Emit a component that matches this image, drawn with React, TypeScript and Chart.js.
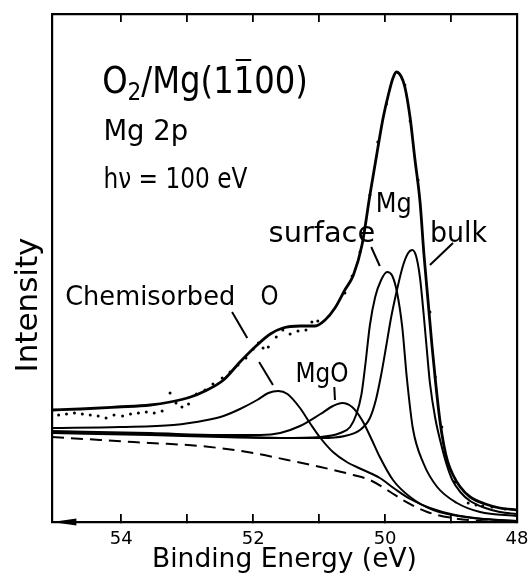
import React, { useEffect, useRef } from "react";
import { Chart, registerables } from "chart.js";

Chart.register(...registerables);

const FONT = '"DejaVu Sans", "Liberation Sans", sans-serif';

// Binding energy (eV) and intensity (arb. units)
const totalE = [55.05, 54.62, 54.06, 53.56, 53.26, 52.95, 52.73, 52.45, 52.2, 51.94, 51.74, 51.55, 51.29, 51.06, 50.91, 50.76, 50.61, 50.48, 50.35, 50.23, 50.12, 50.03, 49.94, 49.88, 49.83, 49.76, 49.7, 49.62, 49.55, 49.47, 49.41, 49.35, 49.29, 49.23, 49.17, 49.11, 49.05, 48.97, 48.86, 48.71, 48.48, 48.26, 48.0];
const totalI = [112, 113, 115, 117, 120, 125, 131, 142, 160, 177, 188, 194, 196, 196, 202, 214, 232, 247, 277, 327, 370, 404, 430, 444, 450, 446, 435, 404, 364, 320, 267, 222, 177, 137, 102, 77, 60, 47, 35, 25, 18, 14, 12];

const dataE = [54.95, 54.83, 54.71, 54.59, 54.47, 54.35, 54.23, 54.11, 53.98, 53.86, 53.74, 53.62, 53.5, 53.38, 53.26, 53.17, 53.08, 52.98, 52.86, 52.73, 52.61, 52.47, 52.35, 52.23, 52.11, 52.0, 51.92, 51.85, 51.77, 51.65, 51.55, 51.44, 51.32, 51.2, 51.11, 51.02, 50.61, 50.5, 50.38, 50.23, 50.11, 49.98, 49.7, 49.62, 49.5, 49.32, 49.24, 49.14, 48.94, 48.74, 48.62, 48.52, 48.38, 48.18];
const dataI = [107, 108, 109, 108, 107, 106, 104, 107, 106, 108, 109, 110, 109, 111, 129, 119, 115, 118, 128, 132, 138, 144, 150, 157, 164, 173, 179, 174, 175, 185, 192, 188, 191, 192, 200, 201, 229, 246, 270, 327, 380, 418, 437, 401, 342, 210, 145, 95, 40, 19, 17, 16, 15, 13];

const chemE = [55.05, 54.02, 53.21, 52.7, 52.45, 52.2, 51.94, 51.77, 51.62, 51.48, 51.29, 51.14, 50.98, 50.79, 50.58, 50.33, 50.08, 49.85, 49.62, 49.32, 48.94, 48.48, 48.0];
const chemI = [94, 95, 97, 102, 106, 113, 122, 129, 131, 128, 114, 99, 84, 70, 60, 52, 44, 33, 23, 14, 7, 3, 1];

const mgoE = [55.05, 53.56, 52.5, 51.89, 51.59, 51.29, 50.98, 50.79, 50.65, 50.5, 50.35, 50.2, 50.08, 49.88, 49.62, 49.27, 48.67, 48.0];
const mgoI = [91, 89, 87, 87, 89, 96, 108, 116, 119, 115, 102, 82, 65, 42, 25, 12, 4, 1];

const surfE = [55.05, 53.56, 52.5, 51.59, 50.98, 50.68, 50.53, 50.44, 50.36, 50.3, 50.23, 50.15, 50.06, 49.97, 49.89, 49.82, 49.74, 49.67, 49.58, 49.42, 49.21, 48.91, 48.56, 48.0];
const surfI = [90, 88, 86, 84, 85, 89, 95, 107, 127, 157, 197, 225, 242, 250, 246, 230, 195, 144, 94, 59, 35, 19, 10, 6];

const bulkE = [55.05, 53.56, 52.5, 51.59, 50.98, 50.61, 50.38, 50.23, 50.14, 50.06, 49.98, 49.91, 49.82, 49.73, 49.65, 49.59, 49.53, 49.47, 49.41, 49.36, 49.32, 49.24, 49.14, 49.06, 48.98, 48.86, 48.71, 48.48, 48.26, 48.0];
const bulkI = [89, 87, 85, 84, 84, 86, 92, 104, 122, 147, 177, 204, 232, 256, 269, 272, 266, 244, 204, 167, 139, 104, 75, 56, 42, 30, 21, 14, 10, 8];

const bgE = [55.05, 54.32, 53.56, 52.8, 52.0, 51.48, 50.98, 50.48, 50.23, 49.92, 49.73, 49.36, 48.98, 48.56, 48.0];
const bgI = [85, 82, 79, 76, 69, 62, 55, 47, 42, 30, 22, 10, 4, 1, 0];

const tickValues = [48, 49, 50, 51, 52, 53, 54];
const tickLabelValues = [54, 52, 50, 48];

const pts = (e: number[], v: number[]) => e.map((x, k) => ({ x, y: v[k] }));

// annotation leader lines (energy, intensity)
const leaderLines: [number, number, number, number][] = [
  [52.32, 210, 52.09, 184],
  [51.91, 160, 51.7, 137],
  [50.77, 135, 50.76, 122],
  [50.21, 275, 50.08, 256],
  [48.97, 279, 49.32, 257],
];

const annotationPlugin = {
  id: "annots",
  afterDraw(chart: any) {
    const { ctx, scales } = chart;
    const xs = scales.x;
    const ys = scales.y;
    const px = (e: number) => xs.getPixelForValue(e);
    const py = (v: number) => ys.getPixelForValue(v);
    ctx.save();
    ctx.fillStyle = "#000";
    ctx.strokeStyle = "#000";
    const text = (s: string, x: number, y: number, size: number, sx = 1, align: CanvasTextAlign = "left") => {
      ctx.save();
      ctx.font = `${size}px ${FONT}`;
      ctx.textBaseline = "alphabetic";
      ctx.textAlign = align;
      ctx.translate(x, y);
      ctx.scale(sx, 1);
      ctx.fillText(s, 0, 0);
      const w = ctx.measureText(s).width * sx;
      ctx.restore();
      return w;
    };

    // Title O2/Mg(1-100)
    let x = px(54.29);
    const y = py(429);
    const ts = 38, tsx = 0.85;
    x += text("O", x, y, ts, tsx);
    x += text("2", x, y + 7, 24, 0.9);
    x += text("/Mg(1", x, y, ts, tsx);
    const w1 = text("1", x, y, ts, tsx);
    ctx.lineWidth = 2;
    ctx.beginPath();
    ctx.moveTo(x + 2, y - 33);
    ctx.lineTo(x + w1 - 3, y - 33);
    ctx.stroke();
    x += w1;
    text("00)", x, y, ts, tsx);

    text("Mg 2p", px(54.27), py(382), 28, 0.98);
    text("h\u03bd = 100 eV", px(54.27), py(334), 28, 0.83);
    text("Mg", px(50.14), py(310), 27, 0.89);
    text("surface", px(50.15), py(280), 28, 1.03, "right");
    text("bulk", px(49.32), py(280), 28, 0.96);
    text("Chemisorbed", px(54.85), py(217), 27, 0.95);
    text("O", px(51.89), py(217), 27, 0.85);
    text("MgO", px(51.36), py(140), 27, 0.86);

    // leader lines
    ctx.lineWidth = 2;
    for (const [e1, i1, e2, i2] of leaderLines) {
      ctx.beginPath();
      ctx.moveTo(px(e1), py(i1));
      ctx.lineTo(px(e2), py(i2));
      ctx.stroke();
    }

    // direction arrow on the energy axis
    const tipX = px(55.05), baseX = px(54.68), ay = py(0);
    ctx.beginPath();
    ctx.moveTo(tipX, ay);
    ctx.lineTo(baseX, ay - 3.5);
    ctx.lineTo(baseX, ay + 3.5);
    ctx.closePath();
    ctx.fill();

    // y-axis title
    ctx.save();
    ctx.translate(px(55.27), py(217));
    ctx.rotate(-Math.PI / 2);
    ctx.font = `31px ${FONT}`;
    ctx.textAlign = "center";
    ctx.textBaseline = "alphabetic";
    ctx.fillText("Intensity", 0, 0);
    ctx.restore();

    ctx.restore();
  },
};

export default function App() {
  const ref = useRef<HTMLCanvasElement>(null);
  useEffect(() => {
    if (!ref.current) return;
    Chart.defaults.font.family = FONT;
    const line = (d: any[], w: number, dash: number[] = []) => ({
      data: d,
      borderColor: "#000",
      backgroundColor: "#000",
      borderWidth: w,
      borderDash: dash,
      pointRadius: 0,
      fill: false,
      cubicInterpolationMode: "monotone" as const,
    });
    const chart = new Chart(ref.current, {
      type: "line",
      data: {
        datasets: [
          { label: "Background", ...line(pts(bgE, bgI), 2, [12, 7]) },
          { label: "Chemisorbed O", ...line(pts(chemE, chemI), 2) },
          { label: "MgO", ...line(pts(mgoE, mgoI), 2) },
          { label: "Mg surface", ...line(pts(surfE, surfI), 2) },
          { label: "Mg bulk", ...line(pts(bulkE, bulkI), 2) },
          { label: "Fit", ...line(pts(totalE, totalI), 2.8) },
          {
            label: "Data",
            data: pts(dataE, dataI),
            showLine: false,
            pointRadius: 1.5,
            pointBorderWidth: 0,
            pointBackgroundColor: "#000",
            borderColor: "#000",
          },
        ],
      },
      options: {
        animation: false,
        responsive: true,
        maintainAspectRatio: false,
        layout: { padding: 0 },
        plugins: { legend: { display: false }, tooltip: { enabled: false } },
        scales: {
          x: {
            type: "linear",
            position: "bottom",
            reverse: true,
            min: 48,
            max: 55.05,
            afterBuildTicks: (s: any) => {
              s.ticks = tickValues.map((v) => ({ value: v }));
            },
            afterFit: (s: any) => {
              s.height = 61;
            },
            ticks: {
              autoSkip: false,
              maxRotation: 0,
              padding: 15,
              color: "#000",
              font: { size: 18, family: FONT },
              callback: (v: any) => (tickLabelValues.includes(Number(v)) ? String(v) : ""),
            },
            grid: { drawOnChartArea: false, drawTicks: true, tickLength: -8, color: "#000", lineWidth: 1.8 },
            border: { display: true, color: "#000", width: 2.2 },
            title: {
              display: true,
              text: "Binding Energy (eV)",
              color: "#000",
              font: { size: 26.5, family: FONT },
              padding: { top: 0, bottom: 7 },
            },
          },
          xTop: {
            type: "linear",
            position: "top",
            reverse: true,
            min: 48,
            max: 55.05,
            afterBuildTicks: (s: any) => {
              s.ticks = tickValues.map((v) => ({ value: v }));
            },
            afterFit: (s: any) => {
              s.height = 14;
            },
            ticks: { display: false },
            grid: { drawOnChartArea: false, drawTicks: true, tickLength: -8, color: "#000", lineWidth: 1.8 },
            border: { display: true, color: "#000", width: 2.2 },
          },
          y: {
            type: "linear",
            position: "left",
            min: 0,
            max: 508,
            afterFit: (s: any) => {
              s.width = 52;
            },
            ticks: { display: false },
            grid: { display: false },
            border: { display: true, color: "#000", width: 2.2 },
          },
          yRight: {
            type: "linear",
            position: "right",
            min: 0,
            max: 508,
            afterFit: (s: any) => {
              s.width = 11;
            },
            ticks: { display: false },
            grid: { display: false },
            border: { display: true, color: "#000", width: 2.2 },
          },
        },
      },
      plugins: [annotationPlugin],
    } as any);
    return () => chart.destroy();
  }, []);
  return (
    <div style={{ position: "absolute", left: 0, top: 0, width: 528, height: 583, background: "#fff" }}>
      <canvas ref={ref} />
    </div>
  );
}
